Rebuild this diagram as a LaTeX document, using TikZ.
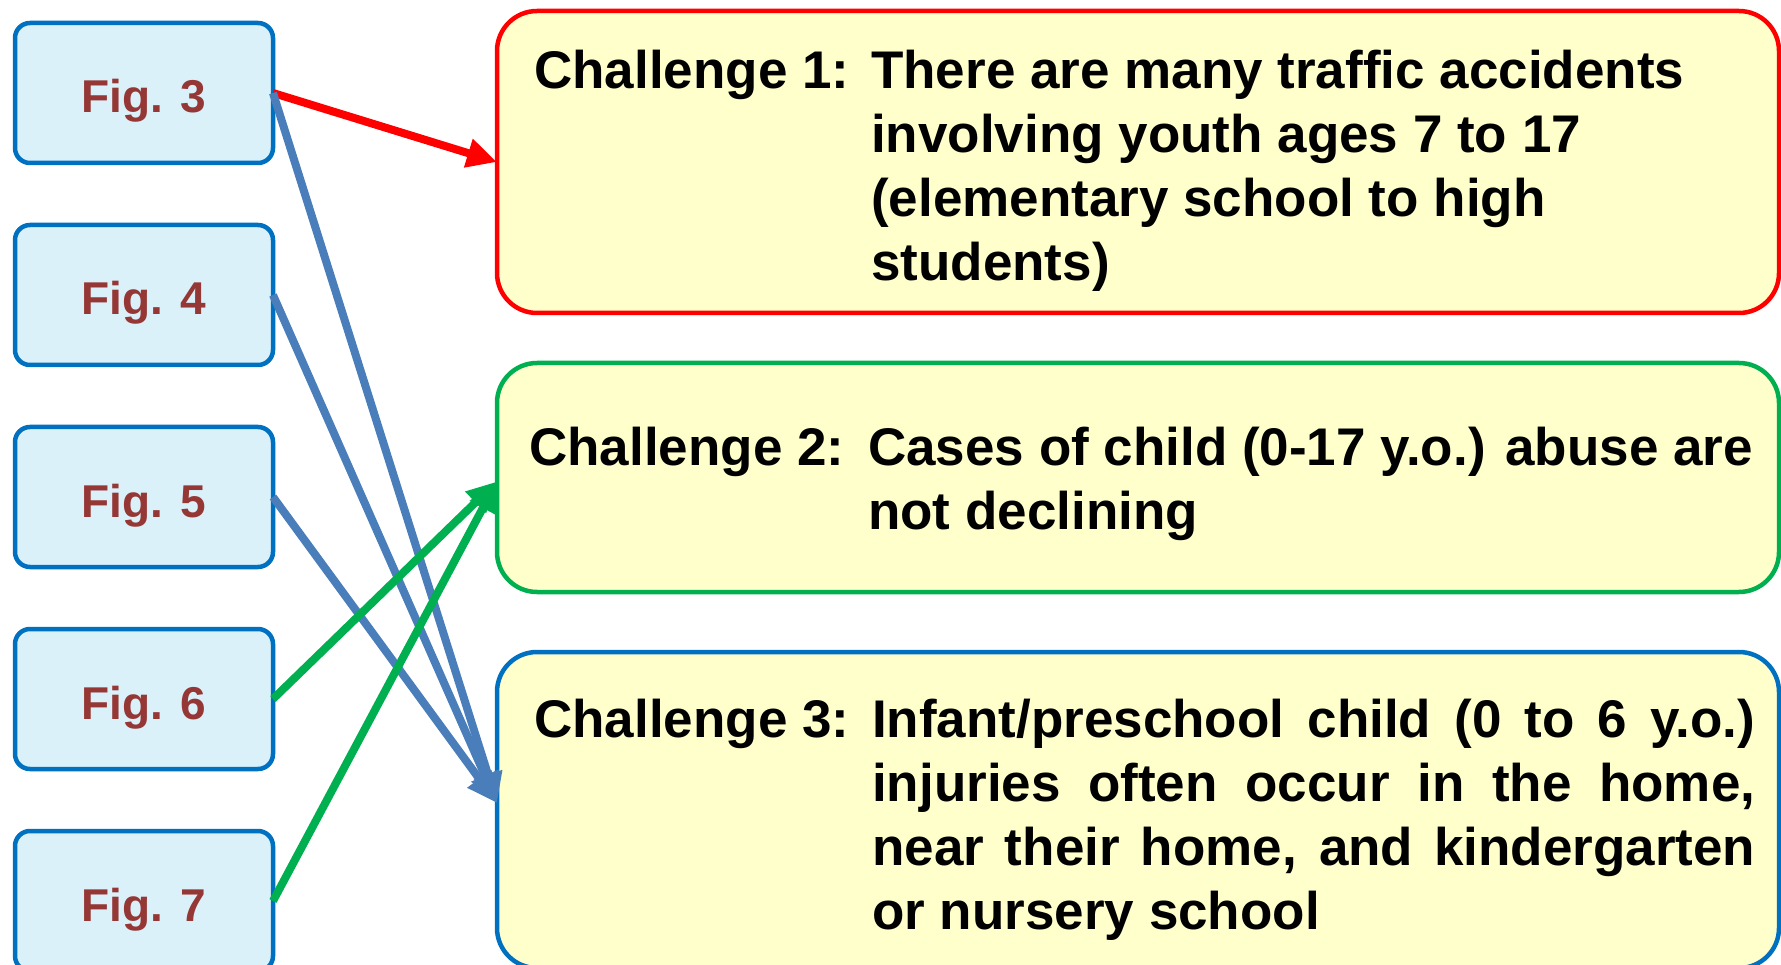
\documentclass[tikz,border=0pt]{standalone}
\usepackage{fontspec}
\setmainfont{Liberation Sans}
\usetikzlibrary{calc, positioning, arrows.meta}
\definecolor{figfill}{HTML}{DAF1FA}
\definecolor{figline}{HTML}{0070C0}
\definecolor{figtext}{HTML}{953735}
\definecolor{notefill}{HTML}{FFFFCC}
\definecolor{linkblue}{HTML}{4A7EBB}
\definecolor{linkgreen}{HTML}{00B050}
\definecolor{linkred}{HTML}{FF0000}

\begin{document}
\begin{tikzpicture}[x=1pt, y=-1pt,
    figbox/.style={
        draw=figline, fill=figfill,
        line width=4.5pt,
        rounded corners=15pt,
        minimum width=258pt, minimum height=140pt,
        inner sep=0pt, outer sep=0pt,
        text=figtext,
        text height=40pt, text depth=0pt,  % sits the label a bit low, as the caps do
        font=\fontsize{46}{56}\selectfont\bfseries
    },
    chbox/.style={
        fill=notefill,
        line width=4.5pt,
        rounded corners=40pt,   % big round corners on the challenge boxes
        minimum width=1282pt,
        inner sep=0pt, outer sep=0pt
    },
    chtext/.style={
        anchor=base west, inner sep=0pt,
        font=\fontsize{53}{64}\selectfont\bfseries
    },
    link/.style={line width=8pt, -{Triangle[length=30pt, width=28pt]}}
  ]
    \useasboundingbox (0,0) rectangle (1781,965);
    \clip (0,0) rectangle (1781,965);

    % challenge boxes on the right
    \node[chbox, draw=linkred, minimum height=302pt] (c1) at (1138,162) {};
    \node[chbox, draw=linkgreen, minimum height=229pt, below=50pt of c1] (c2) {};
    \node[chbox, draw=figline, minimum height=316pt, below=60pt of c2] (c3) {};

    \node[chtext] (l1) at ($(c1.north west)+(37,78)$) {Challenge 1:};
    \node[chtext] (t1) at ($(c1.north west)+(374,78)$) {\parbox[t]{900pt}{\raggedright
        There are many traffic accidents\\
        involving youth ages 7 to 17\\
        (elementary school to high\\
        students)}};

    \node[chtext] (l2) at ($(c2.north west)+(32,103)$) {Challenge 2:};
    \node[chtext] (t2) at ($(c2.north west)+(371,103)$) {\parbox[t]{900pt}{\raggedright
        Cases of child (0-17 y.o.) abuse are\\
        not declining}};

    \node[chtext] (l3) at ($(c3.north west)+(37,85)$) {Challenge 3:};
    \node[chtext] (t3) at ($(c3.north west)+(375,85)$) {\parbox[t]{883pt}{%
        \hyphenpenalty=10000 \tolerance=10000
        Infant/preschool child (0 to 6 y.o.)\linebreak
        injuries often occur in the home,\linebreak
        near their home, and kindergarten\linebreak
        or nursery school}};

    % figure boxes on the left
    \node[figbox] (f3) at (144,93) {Fig. 3};
    \node[figbox, below=62pt of f3] (f4) {Fig. 4};
    \node[figbox, below=62pt of f4] (f5) {Fig. 5};
    \node[figbox, below=62pt of f5] (f6) {Fig. 6};
    \node[figbox, below=62pt of f6] (f7) {Fig. 7};

    % links
    \draw[link, linkred] (f3.east) -- (c1.west);
    \draw[link, linkblue] (f3.east) -- ([yshift=7pt]c3.west);
    \draw[link, linkblue] (f4.east) -- ([yshift=7pt]c3.west);
    \draw[link, linkblue] (f5.east) -- ([yshift=7pt]c3.west);
    \draw[link, linkgreen] (f6.east) -- ([yshift=-4pt]c2.west);
    \draw[link, linkgreen] (f7.east) -- ([yshift=-4pt]c2.west);
\end{tikzpicture}
\end{document}
